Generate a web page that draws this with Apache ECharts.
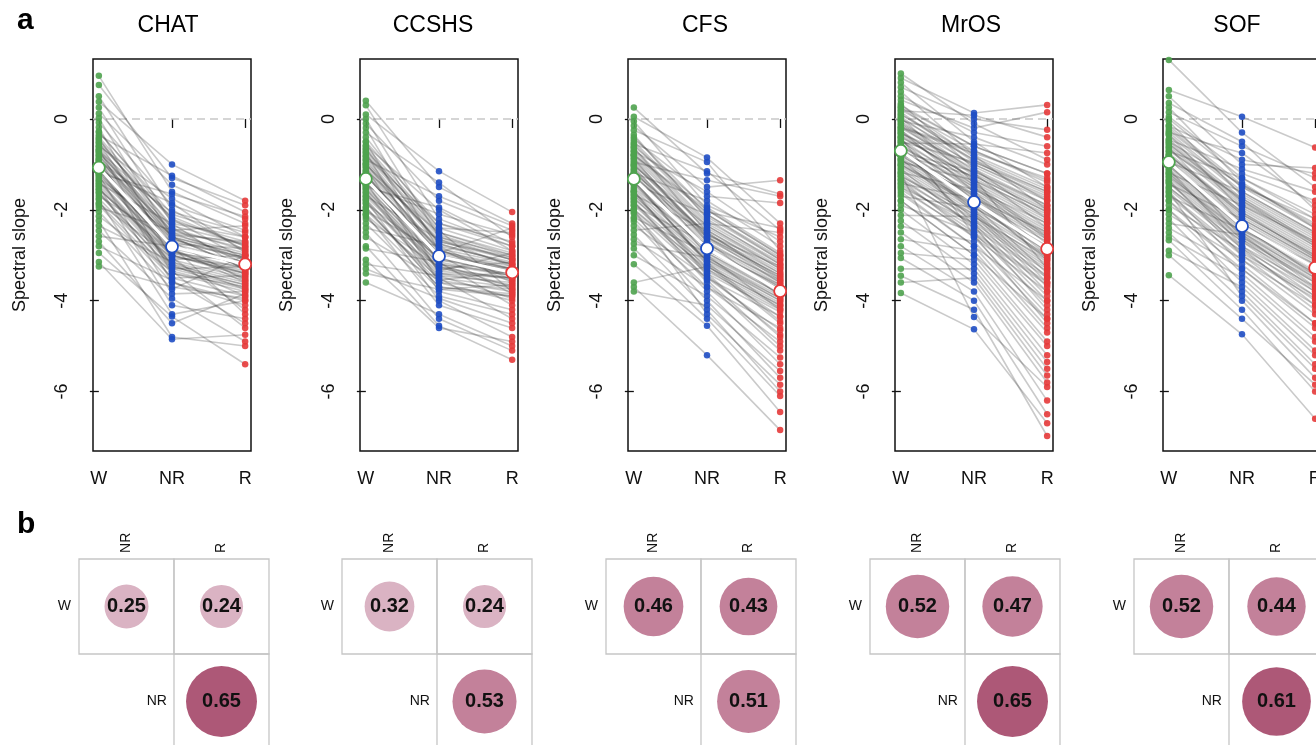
<!DOCTYPE html>
<html><head><meta charset="utf-8">
<script src="https://cdn.jsdelivr.net/npm/echarts@6/dist/echarts.min.js"></script>
<style>html,body{margin:0;padding:0;background:#fff}#c{width:1316px;height:745px}</style>
</head><body><div id="c"></div>
<script>
const cohorts = ['CHAT', 'CCSHS', 'CFS', 'MrOS', 'SOF'];
const stages = ['W', 'NR', 'R'];
const yTicks = [-6, -4, -2, 0];

// per-subject spectral slopes (W, NR, R), read/
const chatW = [0.95,0.75,0.5,0.38,0.25,0.12,0.02,-0.08,-0.18,-0.27,-0.36,-0.44,-0.52,-0.6,-0.67,-0.74,-0.8,-0.86,-0.92,-0.98,-1.03,-1.08,-1.13,-1.18,-1.24,-1.3,-1.36,-1.42,-1.48,-1.55,-1.62,-1.7,-1.78,-1.86,-1.95,-2.04,-2.14,-2.24,-2.35,-2.46,-2.58,-2.7,-2.8,-2.95,-3.15,-3.25,-0.7,-1.0,-1.2,-0.9,
  -0.3,-0.45,-0.55,-0.65,-0.75,-0.85,-0.95,-1.05,-1.15,-1.25,-1.35,-1.45,-1.55,-1.65,-1.75,-1.85,-0.5,-0.8,-1.1,-1.4,-0.6,-0.9,-1.2,-1.5,-1.0,-0.4,-0.7,-1.3,-1.6,-1.9];
const chatNR = [-1.6,-1.3,-2.0,-1.0,-2.3,-1.45,-2.6,-1.9,-3.1,-2.2,-1.25,-2.5,-2.9,-1.75,-3.4,-2.4,-2.75,-3.6,-2.05,-3.0,-2.65,-3.3,-1.85,-2.85,-3.85,-2.55,-3.2,-2.3,-4.1,-2.95,-3.5,-2.7,-4.3,-3.05,-2.45,-3.75,-3.35,-4.8,-3.15,-3.95,-2.8,-4.5,-3.55,-4.35,-4.85,-3.7,-2.15,-3.25,-1.65,-2.6,
  -2.1,-2.4,-2.2,-2.6,-2.5,-2.8,-2.7,-2.9,-3.0,-2.75,-3.1,-3.2,-3.0,-3.3,-3.4,-3.5,-2.35,-2.65,-2.95,-3.15,-2.55,-2.45,-3.05,-3.25,-2.85,-2.25,-2.6,-2.9,-3.35,-3.6];
const chatR = [-2.3,-1.9,-2.9,-1.8,-2.6,-2.2,-3.3,-2.45,-3.0,-3.1,-2.05,-2.75,-3.5,-2.6,-3.7,-3.2,-2.85,-4.1,-2.5,-3.4,-3.05,-3.25,-2.95,-3.6,-3.8,-2.7,-3.9,-3.35,-4.4,-3.15,-3.45,-3.55,-4.0,-4.2,-2.35,-3.0,-4.6,-5.0,-3.75,-4.9,-4.3,-3.85,-4.5,-5.4,-4.75,-3.95,-2.8,-3.65,-2.15,-3.3,
  -2.6,-2.9,-2.8,-3.0,-3.1,-3.2,-3.05,-3.3,-3.4,-3.15,-3.5,-3.6,-3.45,-3.7,-3.8,-3.9,-2.75,-3.1,-3.35,-3.55,-2.95,-2.85,-3.25,-3.65,-3.2,-2.7,-3.0,-3.4,-3.75,-4.0];
const chatMean = [-1.07, -2.81, -3.2];

const ccshsW = [0.4,0.3,0.1,0.0,-0.1,-0.2,-0.3,-0.4,-0.5,-0.58,-0.66,-0.74,-0.82,-0.9,-0.98,-1.06,-1.14,-1.22,-1.3,-1.38,-1.46,-1.54,-1.62,-1.7,-1.78,-1.86,-1.94,-2.02,-2.1,-2.2,-2.3,-2.4,-2.5,-2.6,-2.8,-2.85,-3.1,-3.2,-3.3,-3.4,-3.6,-1.0,-1.2,-1.5,-0.7,
  -0.5,-0.65,-0.8,-0.95,-1.1,-1.25,-1.4,-1.55,-1.7,-1.85,-2.0,-2.15,-0.6,-0.9,-1.2,-1.5,-1.8,-2.1,-0.75,-1.05,-1.35,-1.65,-1.95,-1.0,-1.3,-1.6,-0.85,-1.15,-1.45,-1.75];
const ccshsNR = [-1.5,-2.2,-1.15,-2.6,-1.8,-2.9,-1.4,-2.4,-3.2,-2.0,-2.75,-3.4,-2.3,-1.7,-3.0,-3.6,-2.5,-3.1,-2.85,-3.8,-2.1,-3.3,-3.5,-2.65,-4.0,-3.05,-3.7,-2.95,-4.1,-3.25,-3.9,-2.8,-4.4,-3.55,-4.55,-3.15,-4.6,-3.45,-3.95,-3.75,-4.3,-2.7,-3.35,-1.95,-2.45,
  -2.3,-2.5,-2.6,-2.7,-2.85,-2.95,-3.05,-3.2,-3.3,-3.45,-3.6,-3.75,-2.4,-2.8,-3.0,-3.1,-3.4,-3.5,-2.55,-2.9,-3.15,-3.25,-3.7,-2.65,-3.0,-3.35,-2.75,-2.9,-3.2,-3.55];
const ccshsR = [-2.3,-2.8,-2.05,-3.1,-2.45,-3.4,-2.6,-2.5,-3.7,-2.9,-3.2,-3.5,-2.7,-2.35,-3.85,-4.0,-3.0,-3.3,-3.6,-4.2,-2.55,-3.15,-4.4,-3.25,-4.8,-3.45,-3.9,-2.4,-4.6,-3.75,-4.3,-3.55,-5.1,-3.35,-5.3,-4.1,-4.9,-3.95,-4.5,-3.65,-5.0,-3.05,-2.95,-2.75,-3.8,
  -2.8,-2.95,-3.0,-3.1,-3.2,-3.3,-3.35,-3.45,-3.5,-3.6,-3.75,-3.9,-2.9,-3.15,-3.3,-3.4,-3.65,-3.7,-3.05,-3.25,-3.45,-3.55,-3.85,-3.1,-3.35,-3.5,-3.2,-3.3,-3.4,-3.8];
const ccshsMean = [-1.32, -3.02, -3.38];

const cfsW = [0.25,0.05,-0.05,-0.15,-0.25,-0.35,-0.45,-0.55,-0.63,-0.71,-0.79,-0.87,-0.95,-1.03,-1.11,-1.19,-1.27,-1.35,-1.43,-1.51,-1.59,-1.67,-1.75,-1.83,-1.91,-1.99,-2.08,-2.17,-2.26,-2.35,-2.45,-2.55,-2.65,-2.75,-2.85,-3.0,-3.2,-3.6,-3.7,-3.8,-1.0,-1.2,-1.4,-0.8,-1.6,-0.6,-1.8,-2.0,
  -0.4,-0.55,-0.7,-0.85,-1.0,-1.15,-1.3,-1.45,-1.6,-1.75,-1.9,-2.05,-2.2,-0.5,-0.8,-1.1,-1.4,-1.7,-2.0,-0.65,-0.95,-1.25,-1.55,-1.85,-1.05,-1.35,-0.75,-1.65,-1.2,-0.9];
const cfsNR = [-1.2,-0.85,-1.9,-1.5,-0.95,-2.2,-1.7,-1.15,-2.5,-1.6,-2.0,-2.7,-1.35,-2.35,-3.0,-1.8,-2.6,-3.2,-2.1,-2.85,-3.4,-2.45,-3.1,-3.6,-2.75,-3.3,-3.8,-2.95,-4.0,-3.5,-2.3,-4.2,-3.7,-3.05,-4.4,-3.9,-4.55,-3.25,-5.2,-4.1,-2.55,-2.9,-3.15,-2.05,-3.45,-1.95,-3.55,-4.3,
  -2.0,-2.15,-2.3,-2.45,-2.6,-2.7,-2.8,-2.95,-3.1,-3.2,-3.35,-3.5,-3.7,-2.1,-2.4,-2.65,-2.9,-3.05,-3.4,-2.25,-2.55,-2.75,-3.0,-3.25,-2.85,-3.15,-2.35,-3.3,-2.5,-2.6];
const cfsR = [-1.65,-2.3,-2.6,-1.35,-2.9,-3.2,-1.85,-2.45,-3.5,-2.7,-3.0,-3.9,-1.7,-3.3,-4.2,-2.8,-3.6,-4.5,-3.1,-3.75,-4.8,-3.4,-4.0,-5.1,-3.55,-4.35,-5.4,-3.85,-5.7,-4.65,-2.5,-6.0,-4.9,-3.95,-6.1,-5.25,-6.45,-4.1,-6.85,-5.55,-3.25,-3.65,-4.45,-2.4,-4.75,-2.95,-5.0,-5.85,
  -3.0,-3.1,-3.2,-3.35,-3.45,-3.6,-3.7,-3.8,-3.95,-4.05,-4.2,-4.35,-4.6,-3.05,-3.3,-3.5,-3.75,-3.9,-4.25,-3.15,-3.4,-3.65,-3.85,-4.1,-3.7,-4.0,-3.25,-4.15,-3.55,-3.45];
const cfsMean = [-1.32, -2.85, -3.79];

const mrosW = [1.0,0.9,0.8,0.7,0.6,0.5,0.42,0.34,0.26,0.18,0.1,0.03,-0.04,-0.11,-0.18,-0.25,-0.32,-0.39,-0.46,-0.53,-0.6,-0.67,-0.74,-0.81,-0.88,-0.95,-1.02,-1.1,-1.18,-1.26,-1.34,-1.42,-1.5,-1.6,-1.7,-1.8,-1.9,-2.0,-2.12,-2.24,-2.36,-2.5,-2.65,-2.8,-2.95,-3.06,-3.3,-3.45,-3.6,-3.83,-0.3,-0.5,-0.7,-0.9,-0.2,-0.6,-0.8,-1.0,-0.4,-1.2,
  0.3,0.2,0.1,0.0,-0.1,-0.2,-0.3,-0.4,-0.5,-0.6,-0.7,-0.8,-0.9,-1.0,-1.1,-1.2,-1.3,-1.4,-1.5,-1.65,-1.8,0.25,0.05,-0.15,-0.35,-0.55,-0.75,-0.95,-1.15,-1.35,-1.55,0.15,-0.05,-0.25,-0.45,-0.65,-0.85,-1.05,-1.25,-1.45];
const mrosNR = [-0.1,0.13,-0.5,0.0,-0.8,-0.3,-0.2,-1.1,-0.6,0.08,-0.9,-1.4,-0.4,-1.2,-0.7,-1.6,-1.0,-1.3,-1.8,-0.55,-1.5,-2.0,-1.15,-1.7,-2.2,-1.35,-1.9,-2.4,-1.55,-2.1,-2.6,-1.75,-2.3,-2.8,-1.95,-3.0,-2.5,-3.2,-2.15,-3.4,-2.7,-3.6,-2.9,-3.8,-3.1,-4.0,-3.3,-4.2,-3.5,-4.63,-1.45,-0.95,-2.05,-1.65,-0.75,-2.35,-1.25,-1.85,-2.55,-4.36,
  -0.6,-0.7,-0.8,-0.9,-1.0,-1.1,-1.2,-1.3,-1.45,-1.55,-1.65,-1.8,-1.9,-2.0,-2.1,-2.25,-2.35,-2.5,-2.6,-2.8,-3.0,-0.85,-1.05,-1.25,-1.4,-1.6,-1.75,-1.95,-2.15,-2.3,-2.55,-0.95,-1.15,-1.35,-1.5,-1.7,-1.85,-2.05,-2.2,-2.4];
const mrosR = [-0.9,0.31,-1.5,-0.24,-2.0,-0.6,0.15,-2.2,-1.2,-0.4,-1.8,-2.6,-1.0,-2.4,-1.4,-2.9,-1.7,-3.3,-3.1,-0.75,-2.75,-3.5,-1.9,-3.0,-3.8,-2.1,-3.4,-4.0,-2.3,-3.7,-4.3,-2.5,-3.9,-4.6,-2.85,-4.9,-4.1,-5.2,-3.2,-5.5,-4.4,-5.8,-4.7,-6.2,-5.0,-6.5,-5.35,-6.98,-5.65,-6.7,-2.65,-1.6,-3.6,-2.95,-1.3,-4.2,-2.05,-3.05,-4.5,-5.9,
  -1.2,-1.35,-1.5,-1.6,-1.75,-1.9,-2.0,-2.15,-2.3,-2.45,-2.55,-2.7,-2.85,-3.0,-3.15,-3.3,-3.45,-3.6,-3.8,-4.0,-4.4,-1.55,-1.8,-2.05,-2.25,-2.5,-2.65,-2.9,-3.1,-3.35,-3.65,-1.65,-1.95,-2.2,-2.4,-2.6,-2.8,-3.05,-3.25,-3.5];
const mrosMean = [-0.7, -1.83, -2.86];

const sofW = [1.3,0.64,0.5,0.35,0.25,0.15,0.05,-0.05,-0.15,-0.25,-0.35,-0.45,-0.55,-0.63,-0.71,-0.79,-0.87,-0.95,-1.03,-1.11,-1.19,-1.27,-1.35,-1.43,-1.51,-1.6,-1.7,-1.8,-1.9,-2.0,-2.1,-2.2,-2.3,-2.4,-2.5,-2.6,-2.67,-2.9,-3.0,-3.44,-0.5,-0.8,-1.0,-1.2,-0.3,-1.4,-0.7,-1.6,
  0.0,-0.15,-0.3,-0.45,-0.6,-0.75,-0.9,-1.05,-1.2,-1.35,-1.5,-1.65,-1.8,-2.0,-0.2,-0.5,-0.8,-1.1,-1.4,-1.7,-0.35,-0.65,-0.95,-1.25,-1.55,-1.0,-0.85,-1.15,-0.55,-1.3];
const sofNR = [-0.3,0.05,-1.0,-0.5,-1.4,-0.6,-1.2,-1.7,-0.9,-1.5,-2.0,-1.1,-1.8,-2.3,-1.3,-2.1,-2.6,-1.6,-2.4,-2.8,-1.9,-2.5,-3.0,-2.2,-2.7,-3.2,-2.45,-3.4,-2.9,-3.6,-3.1,-3.8,-2.55,-3.3,-4.0,-3.5,-4.2,-3.7,-4.4,-4.74,-1.45,-2.05,-2.35,-2.65,-0.75,-2.85,-1.75,-3.9,
  -1.3,-1.45,-1.6,-1.75,-1.9,-2.05,-2.2,-2.35,-2.5,-2.65,-2.8,-2.95,-3.1,-3.3,-1.5,-1.8,-2.1,-2.4,-2.7,-3.0,-1.65,-1.95,-2.25,-2.55,-2.85,-2.3,-2.15,-2.45,-1.85,-2.6];
const sofR = [-1.5,-0.63,-1.08,-2.0,-2.4,-1.3,-1.8,-2.6,-1.2,-2.2,-2.9,-1.6,-2.8,-3.3,-2.1,-3.0,-3.6,-2.5,-3.4,-3.9,-2.7,-3.5,-4.2,-3.1,-3.8,-4.5,-3.2,-4.8,-4.0,-5.1,-4.3,-5.4,-3.7,-4.6,-5.7,-4.9,-6.0,-5.2,-5.85,-6.6,-2.3,-3.05,-3.45,-3.75,-1.9,-4.1,-2.75,-5.5,
  -2.2,-2.35,-2.5,-2.65,-2.8,-2.95,-3.1,-3.25,-3.4,-3.55,-3.7,-3.9,-4.1,-4.5,-2.4,-2.7,-3.0,-3.3,-3.6,-3.95,-2.55,-2.85,-3.15,-3.45,-3.8,-3.2,-3.05,-3.35,-2.75,-3.5];
const sofMean = [-0.95, -2.36, -3.28];

// correlation matrices (upper triangle)
const corrW_NR = [0.25, 0.32, 0.46, 0.52, 0.52];
const corrW_R  = [0.24, 0.24, 0.43, 0.47, 0.44];
const corrNR_R = [0.65, 0.53, 0.51, 0.65, 0.61];

const FONT = '"Liberation Sans", Arial, Helvetica, sans-serif';
const stageColors = ['#4fa34f', '#1f4ec4', '#e63a3a'];
const panelData = [
  [chatW, chatNR, chatR, chatMean],
  [ccshsW, ccshsNR, ccshsR, ccshsMean],
  [cfsW, cfsNR, cfsR, cfsMean],
  [mrosW, mrosNR, mrosR, mrosMean],
  [sofW, sofNR, sofR, sofMean]
];
const aLeft = [93, 360, 628, 895, 1163];
const titleX = [168, 433, 705, 971, 1237];
const bLeft = [79, 342, 606, 870, 1134];

const grid = [], xAxis = [], yAxis = [], series = [], graphic = [];
const circleSeriesIdx = [];

panelData.forEach((p, i) => {
  const ga = 2 * i, gb = 2 * i + 1;
  grid.push({left: aLeft[i], top: 59, width: 158, height: 392, show: true, outerBoundsMode: 'none',
    borderColor: '#111', borderWidth: 1.5, backgroundColor: 'rgba(0,0,0,0)'});
  xAxis.push({gridIndex: ga, type: 'value', min: -0.08, max: 2.08,
    axisLine: {show: false}, splitLine: {show: false},
    axisTick: {show: true, length: 9, customValues: [0, 1, 2], lineStyle: {color: '#111', width: 1.3}},
    axisLabel: {customValues: [0, 1, 2], formatter: v => stages[Math.round(v)],
      fontSize: 18, color: '#111', margin: 19, fontFamily: FONT}});
  yAxis.push({gridIndex: ga, type: 'value', min: -7.31, max: 1.32,
    axisLine: {show: false}, splitLine: {show: false},
    axisTick: {show: true, length: 9, customValues: yTicks, lineStyle: {color: '#111', width: 1.3}},
    axisLabel: {customValues: yTicks, rotate: 90, fontSize: 18, color: '#111', margin: 22, fontFamily: FONT},
    name: 'Spectral slope', nameLocation: 'middle', nameRotate: 90, nameGap: 64,
    nameTextStyle: {fontSize: 18, color: '#111', fontFamily: FONT}});

  series.push({type: 'line', xAxisIndex: ga, yAxisIndex: ga, silent: true, z: 1,
    data: [[-0.08, 0], [2.08, 0]], symbol: 'none',
    lineStyle: {color: '#c8c8c8', width: 1.4, type: [8, 5]}});
  series.push({type: 'lines', coordinateSystem: 'cartesian2d', xAxisIndex: ga, yAxisIndex: ga,
    polyline: true, silent: true, z: 2,
    data: p[0].map((w, k) => ({coords: [[0, w], [1, p[1][k]], [2, p[2][k]]]})),
    lineStyle: {color: '#3a3a3a', width: 1.6, opacity: 0.27}});
  for (let s = 0; s < 3; s++) {
    series.push({type: 'scatter', xAxisIndex: ga, yAxisIndex: ga, silent: true, z: 3,
      data: p[s].map(v => [s, v]), symbolSize: 6.5,
      itemStyle: {color: stageColors[s], opacity: 0.9}});
  }
  series.push({type: 'line', xAxisIndex: ga, yAxisIndex: ga, silent: true, z: 5,
    data: p[3].map((v, k) => ({value: [k, v], itemStyle: {borderColor: stageColors[k]}})),
    symbol: 'circle', symbolSize: 12,
    itemStyle: {color: '#fff', borderWidth: 1.8},
    lineStyle: {color: '#fff', width: 3}});

  graphic.push({type: 'text', x: titleX[i], y: 26,
    style: {text: cohorts[i], font: '23px ' + FONT, fill: '#000', align: 'center', verticalAlign: 'middle'}});

  // panel b
  grid.push({left: bLeft[i], top: 559, width: 190, height: 190, outerBoundsMode: 'none'});
  xAxis.push({gridIndex: gb, type: 'value', min: 0, max: 2, show: false});
  yAxis.push({gridIndex: gb, type: 'value', min: 0, max: 2, inverse: true, show: false});
  series.push({type: 'custom', xAxisIndex: gb, yAxisIndex: gb, silent: true, z: 1,
    data: [[0, 0], [1, 0], [1, 1]],
    renderItem: (params, api) => {
      const a = api.coord([api.value(0), api.value(1)]);
      const b = api.coord([api.value(0) + 1, api.value(1) + 1]);
      return {type: 'rect', shape: {x: Math.min(a[0], b[0]), y: Math.min(a[1], b[1]),
        width: Math.abs(b[0] - a[0]), height: Math.abs(b[1] - a[1])},
        style: {fill: 'none', stroke: '#c6c6c6', lineWidth: 1.3}};
    }});
  circleSeriesIdx.push(series.length);
  series.push({type: 'scatter', xAxisIndex: gb, yAxisIndex: gb, silent: true, z: 3,
    data: [[0.5, 0.5, corrW_NR[i]], [1.5, 0.5, corrW_R[i]], [1.5, 1.5, corrNR_R[i]]],
    symbolSize: d => 88 * Math.sqrt(d[2]),
    itemStyle: {opacity: 1},
    label: {show: true, position: 'inside', formatter: q => q.value[2].toFixed(2),
      fontSize: 20, fontWeight: 'bold', color: '#111', fontFamily: FONT}});
  const lab = {fontSize: 14, color: '#111', fontFamily: FONT};
  series.push({type: 'scatter', xAxisIndex: gb, yAxisIndex: gb, silent: true, z: 4,
    symbolSize: 0.1, itemStyle: {color: 'rgba(0,0,0,0)', opacity: 1},
    data: [
      {value: [0.5, 0], label: Object.assign({show: true, formatter: stages[1], position: 'top', distance: 6, rotate: 90, align: 'left', verticalAlign: 'middle'}, lab)},
      {value: [1.5, 0], label: Object.assign({show: true, formatter: stages[2], position: 'top', distance: 6, rotate: 90, align: 'left', verticalAlign: 'middle'}, lab)},
      {value: [0, 0.5], label: Object.assign({show: true, formatter: stages[0], position: 'left', distance: 8}, lab)},
      {value: [1, 1.5], label: Object.assign({show: true, formatter: stages[1], position: 'left', distance: 7}, lab)}
    ]});
});

graphic.push({type: 'text', x: 17, y: 6, style: {text: 'a', font: 'bold 30px ' + FONT, fill: '#000'}});
graphic.push({type: 'text', x: 17, y: 510, style: {text: 'b', font: 'bold 30px ' + FONT, fill: '#000'}});

const chart = echarts.init(document.getElementById('c'), null, {renderer: 'canvas'});
chart.setOption({
  animation: false,
  textStyle: {fontFamily: FONT},
  grid, xAxis, yAxis, series, graphic,
  visualMap: {type: 'piecewise', show: false, dimension: 2, seriesIndex: circleSeriesIdx,
    pieces: [{min: 0, max: 0.4, color: '#dab3c3'}, {min: 0.4, max: 0.6, color: '#c3819a'}, {min: 0.6, max: 1, color: '#ad5877'}]}
});
</script></body></html>
